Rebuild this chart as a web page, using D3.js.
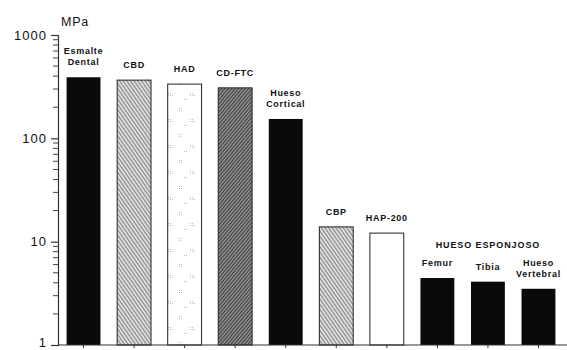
<!DOCTYPE html>
<html><head><meta charset="utf-8">
<script src="https://cdn.jsdelivr.net/npm/d3@7"></script>
<style>
body{margin:0;background:#fff;}
svg{display:block;}
text{font-family:"Liberation Sans",Arial,sans-serif;fill:#111;}
</style></head>
<body><svg id="c" width="567" height="350"></svg>
<script>
const categories = ["Esmalte Dental","CBD","HAD","CD-FTC","Hueso Cortical","CBP","HAP-200","Femur","Tibia","Hueso Vertebral"];
const labelLines = [["Esmalte","Dental"],["CBD"],["HAD"],["CD-FTC"],["Hueso","Cortical"],["CBP"],["HAP-200"],["Femur"],["Tibia"],["Hueso","Vertebral"]];
const values = [390, 366, 335, 308, 154, 13.9, 12.1, 4.45, 4.1, 3.5];
const fills = ["black","hatchA","dots","hatchB","black","hatchA","white","black","black","black"];
const tickValues = [1, 10, 100, 1000];
const groupLabel = "HUESO ESPONJOSO";
const groupMembers = ["Femur","Tibia","Hueso Vertebral"];
const unitLabel = "MPa";

const svg = d3.select("#c");
const defs = svg.append("defs");
const pA = defs.append("pattern").attr("id","hatchA").attr("patternUnits","userSpaceOnUse")
  .attr("width",3).attr("height",3).attr("patternTransform","rotate(-35)");
pA.append("rect").attr("width",3).attr("height",3).attr("fill","#dcdcdc");
pA.append("line").attr("x1",0).attr("y1",0).attr("x2",0).attr("y2",3).attr("stroke","#444").attr("stroke-width",1.2);
const pB = defs.append("pattern").attr("id","hatchB").attr("patternUnits","userSpaceOnUse")
  .attr("width",2.6).attr("height",2.6).attr("patternTransform","rotate(40)");
pB.append("rect").attr("width",2.6).attr("height",2.6).attr("fill","#8a8a8a");
pB.append("line").attr("x1",0).attr("y1",0).attr("x2",0).attr("y2",2.6).attr("stroke","#222").attr("stroke-width",1.4);
const pD = defs.append("pattern").attr("id","dots").attr("patternUnits","userSpaceOnUse")
  .attr("width",22).attr("height",26);
pD.append("rect").attr("width",22).attr("height",26).attr("fill","#fff");
[[3,4],[5,4],[3,6],[5,6],[14,15],[16,15],[14,17],[16,17],[18,17],[8,21],[10,21]].forEach(([x,y])=>
  pD.append("rect").attr("x",x).attr("y",y).attr("width",1).attr("height",1).attr("fill","#bbb"));

const x = d3.scaleBand().domain(categories).range([58, 564]).paddingInner(0.33).paddingOuter(0.17);
const y = d3.scaleLog().domain([1, 1000]).range([345, 35]);

svg.append("g").selectAll("rect").data(categories).join("rect")
  .attr("x", d => x(d)).attr("width", x.bandwidth())
  .attr("y", (d,i) => y(values[i])).attr("height", (d,i) => y(1) - y(values[i]))
  .attr("fill", (d,i) => fills[i]==="black" ? "#0a0a0a" : fills[i]==="white" ? "#fff" : `url(#${fills[i]})`)
  .attr("stroke", (d,i)=> fills[i]==="black" ? "none" : "#222")
  .attr("stroke-width", 1);

const yAxis = d3.axisLeft(y).tickValues(tickValues).tickFormat(d3.format("d")).tickSize(7).tickPadding(4);
const gy = svg.append("g").attr("transform","translate(58,0)").call(yAxis);
gy.select(".domain").attr("stroke","#333").attr("stroke-width",1.2);
gy.selectAll(".tick line").attr("stroke","#333").attr("stroke-width",1.2);
gy.selectAll(".tick text").attr("font-size",13).attr("letter-spacing","1px")
  .attr("font-family","Liberation Sans, Arial, sans-serif").attr("fill","#111")
  .attr("dy", d => d === 1 ? "0.1em" : "0.32em");
const minor = [];
for (let dec = 1; dec < 1000; dec *= 10) for (let k = 2; k <= 9; k++) minor.push(dec*k);
svg.append("g").selectAll("line").data(minor).join("line")
  .attr("x1",53).attr("x2",58).attr("y1",d=>y(d)).attr("y2",d=>y(d))
  .attr("stroke","#444").attr("stroke-width",1);

const xAxis = d3.axisBottom(x).tickSize(3).tickFormat("");
const gx = svg.append("g").attr("transform","translate(0,345)").call(xAxis);
gx.select(".domain").attr("stroke","#333").attr("stroke-width",1.2).attr("d","M58,0H567");
gx.selectAll(".tick line").attr("stroke","#333");

svg.append("text").attr("x",61).attr("y",26).attr("font-size",12.5).attr("letter-spacing","0.8px").text(unitLabel);

const lab = svg.append("g");
categories.forEach((c,i)=>{
  const lines = labelLines[i];
  const cx = x(c) + x.bandwidth()/2;
  const top = y(values[i]);
  const lh = 11;
  lines.forEach((t,j)=>{
    lab.append("text").attr("x",cx).attr("y", top - 12 - (lines.length-1-j)*lh)
      .attr("text-anchor","middle").attr("font-size",9).attr("font-weight","bold")
      .attr("letter-spacing","0.7px").text(t);
  });
});
const gx0 = x(groupMembers[0]), gx1 = x(groupMembers[groupMembers.length-1]) + x.bandwidth();
svg.append("text").attr("x",(gx0+gx1)/2).attr("y", y(values[7]) - 30)
  .attr("text-anchor","middle").attr("font-size",9).attr("font-weight","bold")
  .attr("letter-spacing","0.9px").text(groupLabel);
</script></body></html>
